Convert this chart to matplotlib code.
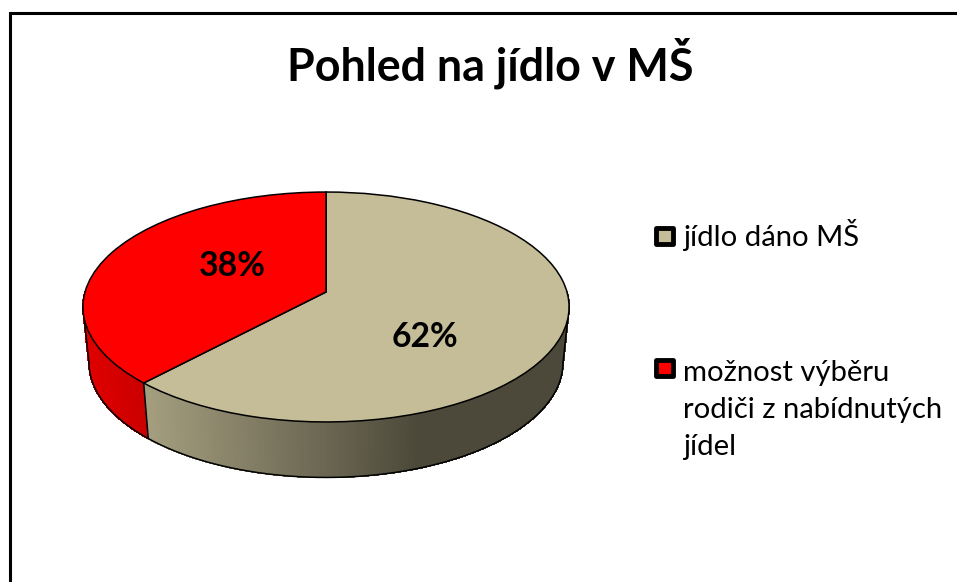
import numpy as np
import matplotlib
matplotlib.use("Agg")
import matplotlib.pyplot as plt
from matplotlib.patches import Polygon, Rectangle
from matplotlib.transforms import Transform

# ---- data ----
title = "Pohled na jídlo v MŠ"
categories = ["jídlo dáno MŠ", "možnost výběru\nrodiči z nabídnutých\njídel"]
values = [62, 38]
colors = ["#C4BD97", "#FF0000"]

W, H = 957, 582
plt.rcParams["font.family"] = ["Lato", "DejaVu Sans"]
fig = plt.figure(figsize=(W / 100, H / 100), dpi=100, facecolor="white")
ax = fig.add_axes([0, 0, 1, 1])

K = 0.1304
CX = 326


class Tilt(Transform):
    """Perspective view of the flat pie disc."""
    input_dims = output_dims = 2
    is_separable = False
    has_inverse = False

    def __init__(self, cy, a, b):
        super().__init__()
        self.cy, self.a, self.b = cy, a, b

    def transform_non_affine(self, xy):
        xy = np.asarray(xy, float)
        d = 1 + K * xy[:, 1]
        return np.column_stack((CX + self.b * xy[:, 0] / d, self.cy - self.a * xy[:, 1] / d))


top = Tilt(292, 113, 241)
bottom = Tilt(347.5, 113, 235)

wedges, _ = ax.pie(values, colors=colors, startangle=90, counterclock=False, radius=1,
                   wedgeprops=dict(edgecolor="black", linewidth=1.1, zorder=5))
ax.set_aspect("auto")
ax.set_xlim(0, W)
ax.set_ylim(H, 0)
ax.axis("off")
for w in wedges:
    w.set_transform(top + ax.transData)


def ring(tr, deg):
    t = np.radians(deg)
    return tr.transform_non_affine(np.column_stack((np.cos(t), np.sin(t))))


def side_color(i, x):
    if i == 0:
        f = np.clip((x - 150) / 270, 0, 1)
        return tuple((np.array([163, 157, 126]) * (1 - f) + np.array([76, 73, 58]) * f) / 255)
    f = np.clip((x - 85) / 65, 0, 1)
    return ((224 * (1 - f) + 200 * f) / 255, 0, 0)


# wall of the pie, one strip per step, slice boundaries follow from the values
split = 90 - 360 * values[0] / sum(values) + 360  # math angle of the 62/38 boundary
deg = np.arange(180, 360.5, 0.5)
pt, pb = ring(top, deg), ring(bottom, deg)
for j in range(len(deg) - 1):
    i = 0 if deg[j] >= split else 1
    xm = (pt[j, 0] + pt[j + 1, 0]) / 2
    c = side_color(i, xm)
    ax.add_patch(Polygon([pt[j], pt[j + 1], pb[j + 1], pb[j]], closed=True, facecolor=c,
                         edgecolor=c, linewidth=0.6, antialiased=False, zorder=2))

# outlines of the wall
tang = np.degrees(np.arcsin(K))
arc = np.linspace(180 + tang, 360 - tang, 400)
pb_arc = ring(bottom, arc)
ax.plot(pb_arc[:, 0], pb_arc[:, 1], color="black", lw=1.1, zorder=3)
for d in (180 + tang, 360 - tang, split):
    a, b = ring(top, np.array([d]))[0], ring(bottom, np.array([d]))[0]
    ax.plot([a[0], b[0]], [a[1], b[1]], color="black", lw=1.1, zorder=3)

# value labels
ax.text(232, 266, f"{values[1]}%", fontsize=24.3, fontweight="bold", ha="center", va="center", zorder=6)
ax.text(424.5, 337, f"{values[0]}%", fontsize=24.3, fontweight="bold", ha="center", va="center", zorder=6)

# title
ax.text(490.5, 63.5, title, fontsize=32.3, fontweight="bold", ha="center", va="center", color="black")

# legend
for cat, col, y0, base in zip(categories, colors, (225, 357), (246, 455)):
    ax.add_patch(Rectangle((656, y0 + 2.6), 17, 16.8, facecolor=col, edgecolor="black", linewidth=3.5,
                           joinstyle="round", zorder=4))
    ax.text(683, base, cat, fontsize=21.1, ha="left", va="baseline", linespacing=1.53, color="black")

# slide frame
ax.plot([9.5, 9.5, W], [H, 12.5, 12.5], color="black", lw=2.2, solid_joinstyle="miter", zorder=7)

fig.savefig("out.png", dpi=100, facecolor="white")
